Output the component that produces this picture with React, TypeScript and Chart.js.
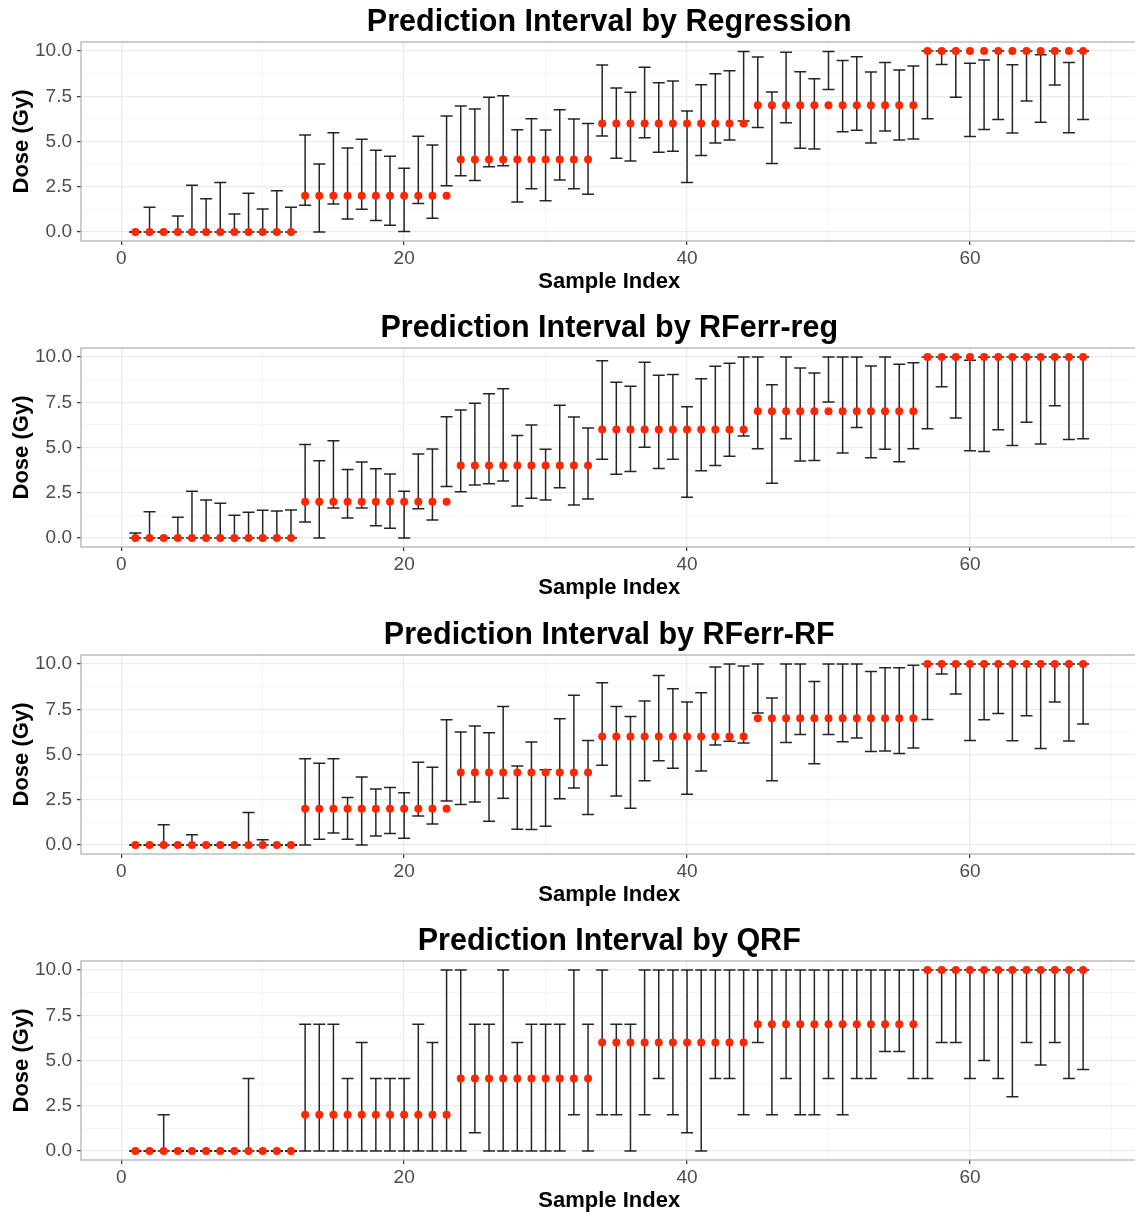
import React, { useEffect, useRef } from 'react';
import { Chart, registerables } from 'chart.js';

Chart.register(...registerables);

// ---------------- data ----------------
const sampleIndex = [
  1, 2, 3, 4, 5, 6, 7, 8, 9, 10, 11, 12, 13, 14, 15, 16, 17, 18, 19, 20,
  21, 22, 23, 24, 25, 26, 27, 28, 29, 30, 31, 32, 33, 34, 35, 36, 37, 38, 39, 40,
  41, 42, 43, 44, 45, 46, 47, 48, 49, 50, 51, 52, 53, 54, 55, 56, 57, 58, 59, 60,
  61, 62, 63, 64, 65, 66, 67, 68,
];

const trueDose = [
  0, 0, 0, 0, 0, 0, 0, 0, 0, 0, 0, 0,
  2, 2, 2, 2, 2, 2, 2, 2, 2, 2, 2,
  4, 4, 4, 4, 4, 4, 4, 4, 4, 4,
  6, 6, 6, 6, 6, 6, 6, 6, 6, 6, 6,
  7, 7, 7, 7, 7, 7, 7, 7, 7, 7, 7, 7,
  10, 10, 10, 10, 10, 10, 10, 10, 10, 10, 10, 10,
];

const panelTitles = [
  'Prediction Interval by Regression',
  'Prediction Interval by RFerr-reg',
  'Prediction Interval by RFerr-RF',
  'Prediction Interval by QRF',
];

const regressionLower = [
  0, 0, 0, 0, 0, 0, 0, 0, 0, 0, 0, 0,
  1.47, 0, 1.55, 0.72, 1.25, 0.64, 0.37, 0.02, 1.57, 0.76, 2.56,
  3.11, 2.85, 3.61, 3.66, 1.66, 2.39, 1.73, 2.87, 2.39, 2.08,
  5.3, 4.07, 3.92, 5.21, 4.4, 4.46, 2.74, 4.22, 4.92, 5.08, 6.13,
  5.78, 3.78, 6.04, 4.62, 4.59, 7.88, 5.54, 5.62, 4.92, 5.58, 5.08, 5.14,
  6.26, 9.26, 7.44, 5.27, 5.67, 6.22, 5.47, 7.24, 6.06, 8.12, 5.49, 6.22,
];
const regressionUpper = [
  0, 1.36, 0, 0.88, 2.58, 1.84, 2.73, 0.99, 2.14, 1.27, 2.28, 1.36,
  5.36, 3.76, 5.49, 4.64, 5.12, 4.51, 4.18, 3.52, 5.29, 4.81, 6.41,
  6.96, 6.8, 7.44, 7.53, 5.65, 6.26, 5.64, 6.76, 6.24, 6.0,
  9.23, 7.96, 7.72, 9.1, 8.25, 8.34, 6.69, 8.14, 8.75, 8.91, 9.98,
  9.67, 7.73, 9.94, 8.86, 8.47, 9.98, 9.48, 9.69, 8.84, 9.37, 8.95, 9.17,
  10, 10, 10, 9.32, 9.5, 10, 9.24, 10, 9.8, 10, 9.37, 10,
];

const rferrRegLower = [
  0, 0, 0, 0, 0, 0, 0, 0, 0, 0, 0, 0,
  0.88, 0, 1.66, 1.1, 1.66, 0.68, 0.53, 0, 1.62, 0.99, 2.84,
  2.56, 2.93, 3.0, 3.15, 1.77, 2.19, 2.1, 2.78, 1.82, 2.15,
  4.35, 3.52, 3.67, 5.02, 3.84, 4.35, 2.25, 3.71, 4.0, 4.52, 5.63,
  4.93, 3.02, 5.48, 4.26, 4.28, 7.52, 4.69, 6.11, 4.43, 4.91, 4.21, 4.93,
  6.03, 8.36, 6.63, 4.82, 4.78, 5.98, 5.11, 6.4, 5.2, 7.31, 5.44, 5.48,
];
const rferrRegUpper = [
  0.28, 1.45, 0, 1.14, 2.58, 2.1, 1.92, 1.25, 1.42, 1.53, 1.49, 1.55,
  5.17, 4.27, 5.38, 3.79, 4.2, 3.83, 3.54, 2.58, 4.64, 4.92, 6.7,
  7.07, 7.44, 7.97, 8.25, 5.67, 6.24, 4.9, 7.33, 6.69, 6.08,
  9.79, 8.6, 8.38, 9.71, 8.99, 9.03, 7.25, 8.8, 9.49, 9.66, 10,
  10, 8.47, 10, 9.39, 9.12, 10, 10, 10, 9.5, 10, 9.6, 9.69,
  10, 10, 10, 9.82, 10, 10, 10, 10, 10, 10, 10, 10,
];

const rferrRfLower = [
  0, 0, 0, 0, 0, 0, 0, 0, 0, 0, 0, 0,
  0, 0.31, 0.66, 0.31, 0, 0.5, 0.63, 0.37, 1.6, 1.16, 2.43,
  2.23, 2.38, 1.31, 2.58, 0.87, 0.85, 1.03, 2.56, 3.15, 1.69,
  4.4, 2.71, 2.03, 3.55, 4.66, 4.24, 2.8, 4.09, 5.52, 5.73, 5.64,
  7.29, 3.55, 5.67, 6.1, 4.49, 6.1, 5.71, 5.91, 5.17, 5.19, 5.06, 5.36,
  6.94, 9.45, 8.34, 5.78, 6.92, 7.27, 5.76, 7.14, 5.33, 7.9, 5.74, 6.69,
];
const rferrRfUpper = [
  0, 0, 1.12, 0, 0.57, 0, 0, 0, 1.79, 0.29, 0, 0,
  4.77, 4.51, 4.77, 2.62, 3.76, 3.09, 3.17, 2.89, 4.57, 4.29, 6.92,
  6.24, 6.57, 6.2, 7.66, 4.36, 5.69, 4.16, 6.98, 8.27, 5.78,
  8.96, 7.66, 7.1, 7.96, 9.37, 8.64, 7.9, 8.42, 9.83, 10, 9.89,
  10, 8.12, 10, 10, 9.04, 10, 10, 10, 9.59, 9.8, 9.8, 9.94,
  10, 10, 10, 10, 10, 10, 10, 10, 10, 10, 10, 10,
];

const qrfLower = [
  0, 0, 0, 0, 0, 0, 0, 0, 0, 0, 0, 0,
  0, 0, 0, 0, 0, 0, 0, 0, 0, 0, 0,
  0, 1, 0, 0, 0, 0, 0, 0, 2, 0,
  2, 2, 0, 2, 4, 2, 1, 0, 4, 4, 2,
  6, 2, 4, 2, 2, 4, 2, 4, 4, 5.5, 5.5, 4,
  4, 6, 6, 4, 5, 4, 3, 6, 4.75, 6, 4, 4.5,
];
const qrfUpper = [
  0, 0, 2, 0, 0, 0, 0, 0, 4, 0, 0, 0,
  7, 7, 7, 4, 6, 4, 4, 4, 7, 6, 10,
  10, 7, 7, 10, 6, 7, 7, 7, 10, 7,
  10, 7, 7, 10, 10, 10, 10, 10, 10, 10, 10,
  10, 10, 10, 10, 10, 10, 10, 10, 10, 10, 10, 10,
  10, 10, 10, 10, 10, 10, 10, 10, 10, 10, 10, 10,
];

const xGridValues = [0, 10, 20, 30, 40, 50, 60, 70];
const xTickLabels = [0, 20, 40, 60];
const yGridValues = [0, 1.25, 2.5, 3.75, 5, 6.25, 7.5, 8.75, 10];
const yTickLabels = [0, 2.5, 5, 7.5, 10];

// ---------------- style ----------------
const FONT = '"Liberation Sans", Arial, Helvetica, sans-serif';
const RED = 'rgb(255,38,0)';
const BAR = 'rgba(20,20,20,0.92)';
const MAJOR_GRID = '#ebebeb';
const MINOR_GRID = '#f5f5f5';
const CANVAS_W = 1145;
const CANVAS_H = 306;
const PANEL_TOPS = [0, 306, 613, 919];

const panelDecor = {
  id: 'panelDecor',
  afterDatasetsDraw(chart: any) {
    const { ctx, chartArea } = chart;
    ctx.save();
    ctx.strokeStyle = '#b3b3b3';
    ctx.lineWidth = 1.3;
    ctx.strokeRect(chartArea.left, chartArea.top, chartArea.right - chartArea.left, chartArea.bottom - chartArea.top);
    ctx.restore();
  },
  afterDraw(chart: any, _args: any, opts: any) {
    const { ctx, chartArea } = chart;
    ctx.save();
    ctx.font = `bold 30.5px ${FONT}`;
    ctx.textAlign = 'center';
    ctx.textBaseline = 'alphabetic';
    ctx.fillStyle = '#000';
    ctx.fillText(opts.text || '', (chartArea.left + chartArea.right) / 2, 30.5);
    ctx.restore();
  },
};

function Panel({ title, lower, upper, top }: { title: string; lower: number[]; upper: number[]; top: number }) {
  const ref = useRef<HTMLCanvasElement | null>(null);

  useEffect(() => {
    if (!ref.current) return;
    const points = sampleIndex.map((x, i) => ({ x, y: trueDose[i] }));
    const segments: any[] = [];
    const caps: any[] = [];
    sampleIndex.forEach((x, i) => {
      segments.push({ x, y: lower[i] }, { x, y: upper[i] }, { x, y: null });
      caps.push({ x, y: lower[i] }, { x, y: upper[i] });
    });

    const isMajorX = (v: number) => xTickLabels.includes(v);
    const isMajorY = (v: number) => yTickLabels.includes(v);

    const chart = new Chart(ref.current, {
      type: 'scatter',
      data: {
        datasets: [
          {
            type: 'scatter',
            data: points,
            pointRadius: 4,
            pointHoverRadius: 4,
            pointBackgroundColor: RED,
            pointBorderWidth: 0,
            order: 0,
          } as any,
          {
            type: 'line',
            data: segments,
            borderColor: BAR,
            borderWidth: 1.5,
            pointRadius: 0,
            spanGaps: false,
            tension: 0,
            fill: false,
            order: 1,
          } as any,
          {
            type: 'scatter',
            data: caps,
            pointStyle: 'line',
            pointRadius: 6,
            pointHoverRadius: 6,
            pointBorderColor: BAR,
            pointBorderWidth: 1.5,
            order: 2,
          } as any,
        ],
      },
      options: {
        responsive: false,
        animation: false,
        events: [],
        layout: { padding: { top: 42, right: 4, left: 0, bottom: 0 } },
        plugins: {
          legend: { display: false },
          tooltip: { enabled: false },
          title: { display: false },
          panelDecor: { text: title },
        } as any,
        scales: {
          x: {
            type: 'linear',
            min: -2.845,
            max: 71.845,
            afterBuildTicks: (s: any) => {
              s.ticks = xGridValues.map((v) => ({ value: v }));
            },
            afterFit: (s: any) => {
              s.height = 65;
            },
            border: { display: false },
            grid: {
              color: (c: any) => (isMajorX(c.tick?.value) ? MAJOR_GRID : MINOR_GRID),
              lineWidth: (c: any) => (isMajorX(c.tick?.value) ? 1.3 : 0.9),
              tickColor: (c: any) => (isMajorX(c.tick?.value) ? '#333333' : 'rgba(0,0,0,0)'),
              tickLength: 4,
              tickWidth: 1.2,
            },
            ticks: {
              autoSkip: false,
              maxRotation: 0,
              padding: 2,
              color: '#4d4d4d',
              font: { family: FONT, size: 19 },
              callback: (v: any) => (isMajorX(Number(v)) ? String(v) : ''),
            },
            title: {
              display: true,
              text: 'Sample Index',
              color: '#000',
              font: { family: FONT, size: 22, weight: 'bold' },
              padding: { top: 0, bottom: 11 },
            },
          },
          y: {
            type: 'linear',
            min: -0.5,
            max: 10.5,
            afterBuildTicks: (s: any) => {
              s.ticks = yGridValues.map((v) => ({ value: v }));
            },
            afterFit: (s: any) => {
              s.width = 81;
            },
            border: { display: false },
            grid: {
              color: (c: any) => (isMajorY(c.tick?.value) ? MAJOR_GRID : MINOR_GRID),
              lineWidth: (c: any) => (isMajorY(c.tick?.value) ? 1.3 : 0.9),
              tickColor: (c: any) => (isMajorY(c.tick?.value) ? '#333333' : 'rgba(0,0,0,0)'),
              tickLength: 4,
              tickWidth: 1.2,
            },
            ticks: {
              autoSkip: false,
              padding: 5,
              color: '#4d4d4d',
              font: { family: FONT, size: 19 },
              callback: (v: any) => (isMajorY(Number(v)) ? Number(v).toFixed(1) : ''),
            },
            title: {
              display: true,
              text: 'Dose (Gy)',
              color: '#000',
              font: { family: FONT, size: 22, weight: 'bold' },
              padding: { top: 9, bottom: 0 },
            },
          },
        },
      },
      plugins: [panelDecor],
    } as any);

    return () => chart.destroy();
  }, [title, lower, upper]);

  return (
    <div style={{ position: 'absolute', left: 0, top, width: CANVAS_W, height: CANVAS_H }}>
      <canvas ref={ref} width={CANVAS_W} height={CANVAS_H} style={{ display: 'block', width: CANVAS_W, height: CANVAS_H }} />
    </div>
  );
}

const panelLowers = [regressionLower, rferrRegLower, rferrRfLower, qrfLower];
const panelUppers = [regressionUpper, rferrRegUpper, rferrRfUpper, qrfUpper];

export default function App() {
  return (
    <div
      style={{
        position: 'absolute',
        left: 0,
        top: 0,
        width: 1135,
        height: 1214,
        overflow: 'hidden',
        background: '#ffffff',
      }}
    >
      {panelTitles.map((t, i) => (
        <Panel key={t} title={t} lower={panelLowers[i]} upper={panelUppers[i]} top={PANEL_TOPS[i]} />
      ))}
    </div>
  );
}
